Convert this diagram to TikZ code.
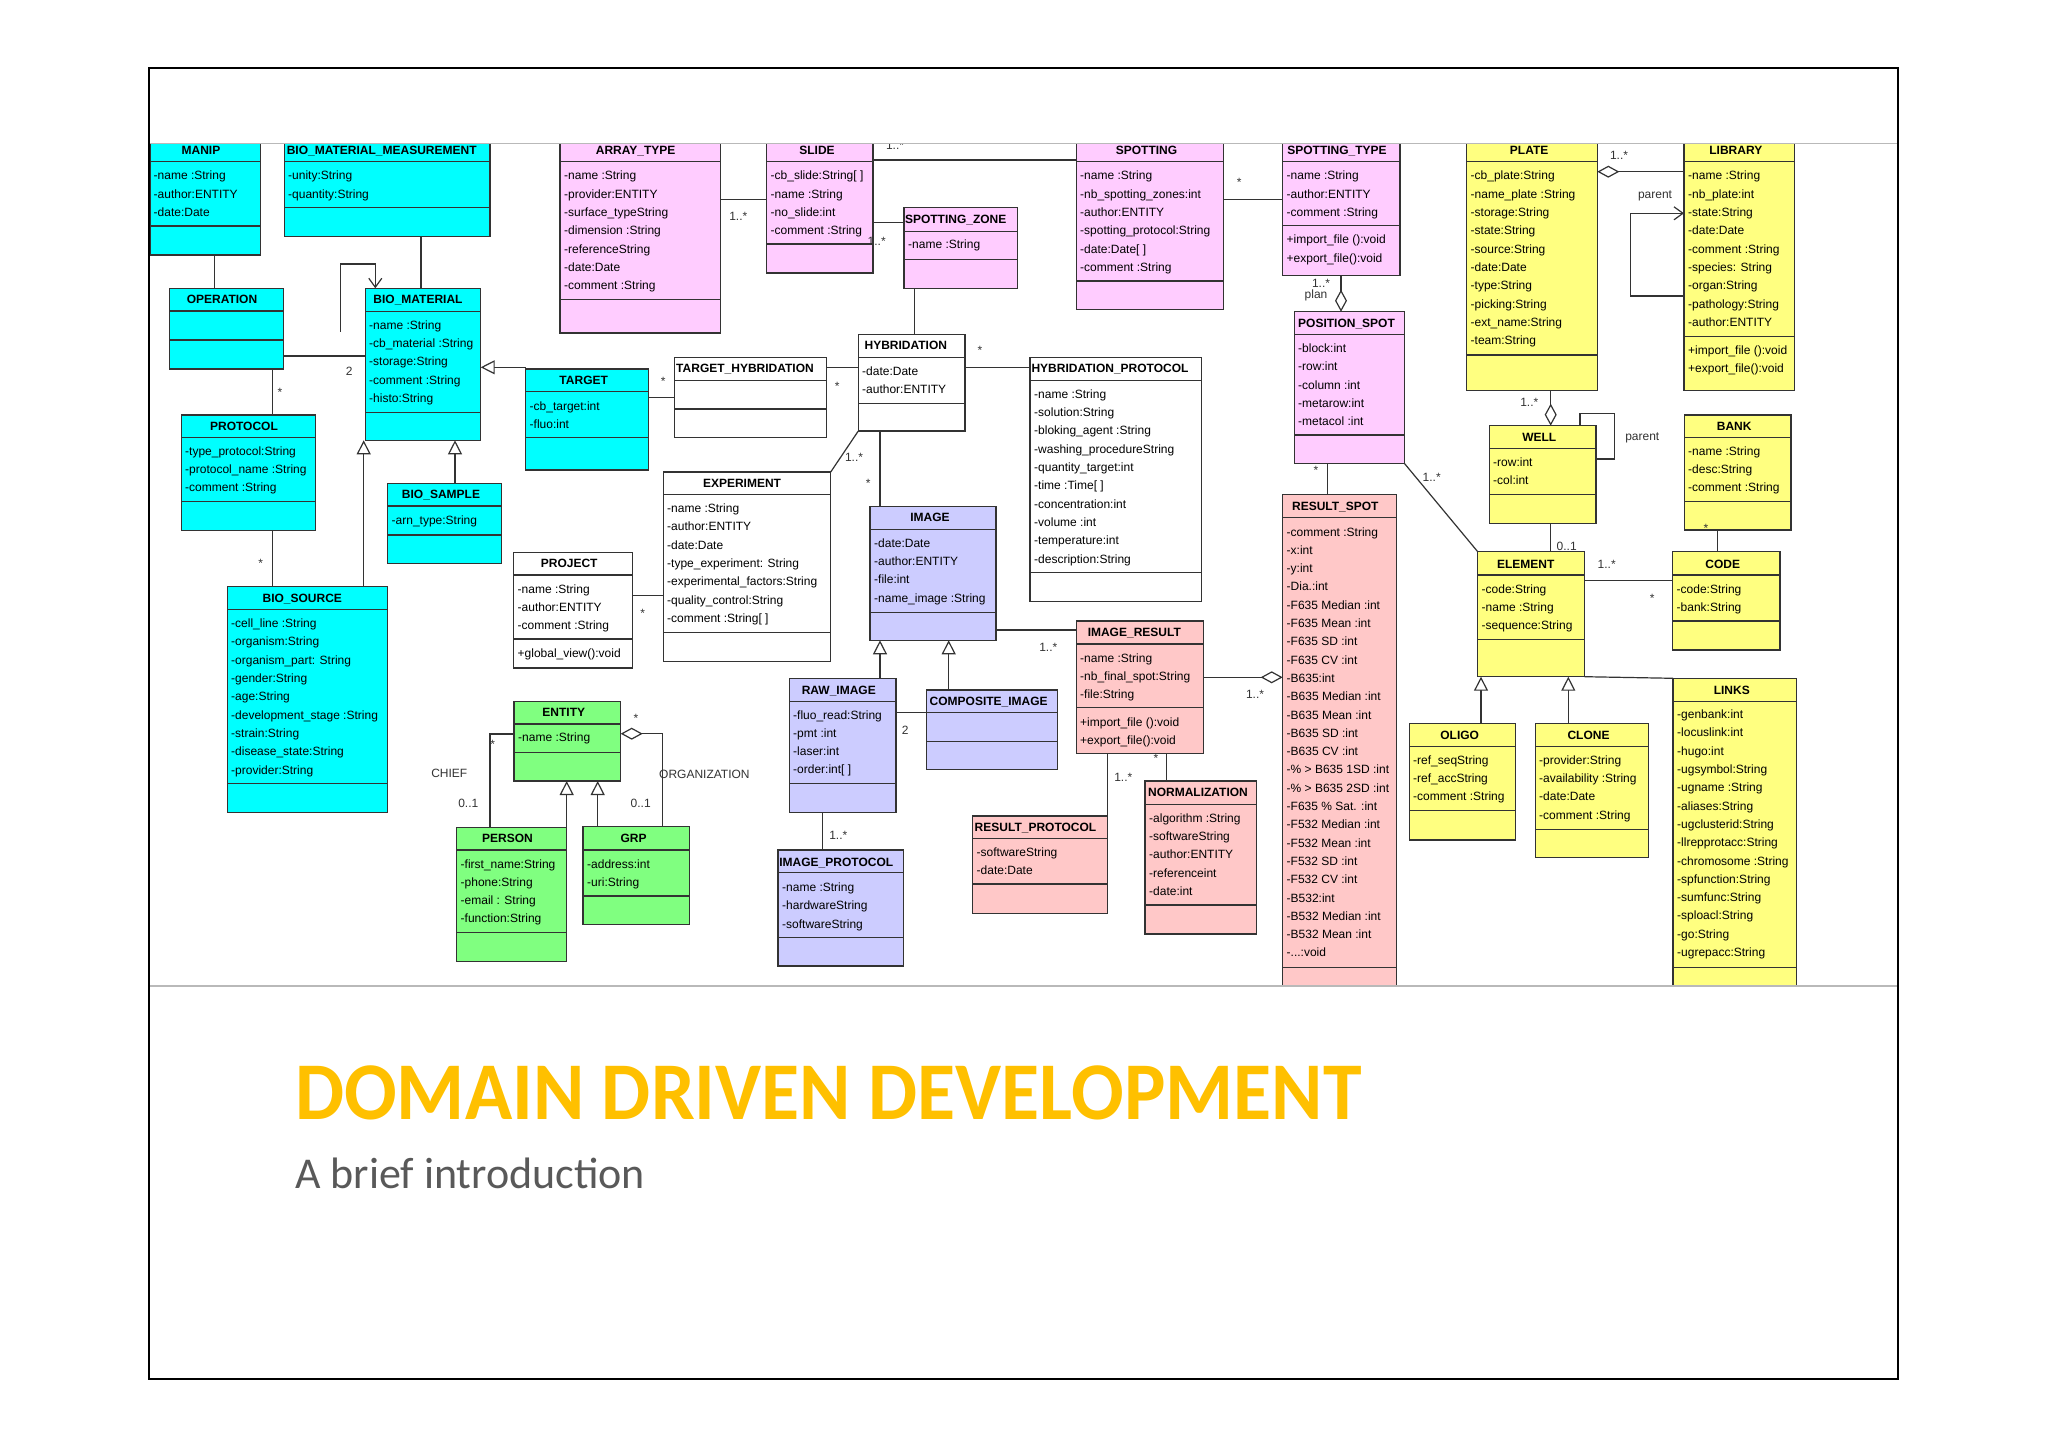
\documentclass[tikz,border=0pt]{standalone}
\usepackage{fontspec}
\usepackage{graphicx}
\setmainfont{Liberation Sans}
\newfontfamily\calib{Carlito}
\usetikzlibrary{arrows.meta}
\definecolor{cy}{HTML}{00FFFF}
\definecolor{pk}{HTML}{FFCCFF}
\definecolor{yl}{HTML}{FFFF80}
\definecolor{lv}{HTML}{CCCCFF}
\definecolor{sm}{HTML}{FFC8C8}
\definecolor{gr}{HTML}{80FF80}
\definecolor{gold}{HTML}{FFC000}
\definecolor{subg}{HTML}{595959}
\definecolor{ln}{HTML}{333333}
\tikzset{
 umlbox/.style={draw=ln, line width=1.2bp, anchor=north west, inner sep=0pt, outer sep=0pt},
 cline/.style={draw=ln, line width=1.2bp},
 conn/.style={draw=ln, line width=1.2bp},
 ttl/.style={font=\bfseries\fontsize{12bp}{14bp}\selectfont, inner sep=0pt, anchor=base},
 attr/.style={font=\fontsize{12bp}{14bp}\selectfont, inner sep=0pt, anchor=base west},
 lbl/.style={font=\fontsize{12bp}{14bp}\selectfont, text=ln, inner sep=0pt, anchor=base},
 gen/.style={conn, -{Triangle[length=14bp, width=14bp, fill=white]}},
 nav/.style={conn, -{Straight Barb[length=9bp, width=13bp]}},
 aggS/.style={conn, {Diamond[length=22bp, width=12bp, fill=white]}-},
 aggE/.style={conn, -{Diamond[length=22bp, width=12bp, fill=white]}},
}
\newcommand\ubox[8]{%
 \node[umlbox, fill=#2, minimum width={#5bp-#3bp}, minimum height={#6bp-#4bp}] (#1) at (#3,#4) {};
 \draw[cline] (#3,#7) -- (#5,#7);
 \draw[cline] (#3,#8) -- (#5,#8);}
\newcommand\utitle[4]{\node[ttl] (#1t) at (#2,#3+4.3) {#4};}
\newcommand\uattrs[4]{\foreach \t [count=\i from 0] in {#4} {\node[attr] (#1\i) at (#2,#3+4.3+\i*18.3) {\t};}}
\newcommand\ulbl[4]{\node[lbl] (#1) at (#2,#3+4.3) {#4};}
\newcommand\ustar[3]{\node[lbl] (#1) at (#2,#3+7) {*};}
\catcode`\_=12
\begin{document}
\begin{tikzpicture}[x=1bp,y=-1bp]
\useasboundingbox (0,0) rectangle (2048,1448);
\fill[white] (0,0) rectangle (2048,1448);
\begin{scope}
\clip (149,144) rectangle (1897,986);
% ---------- boxes ----------
\ubox{manip}{cy}{150}{138}{260.7}{255}{161.7}{226}
\utitle{manip}{201}{150}{MANIP}
\uattrs{manipa}{153.5}{175.7}{-name :String, -author:ENTITY, -date:Date}

\ubox{bmm}{cy}{284.3}{138}{490}{236.3}{161.7}{207.3}
\utitle{bmm}{381.7}{150}{BIO_MATERIAL_MEASUREMENT}
\uattrs{bmma}{288}{175.7}{-unity:String, -quantity:String}

\ubox{oper}{cy}{169.7}{288.3}{283.7}{369}{311}{340}
\utitle{oper}{222}{299.3}{OPERATION}

\ubox{bm}{cy}{365.3}{288.3}{480.7}{440.3}{311.7}{412.3}
\utitle{bm}{418}{299.3}{BIO_MATERIAL}
\uattrs{bma}{369}{325}{-name :String, -cb_material :String, -storage:String, -comment :String, -histo:String}

\ubox{prot}{cy}{181.3}{415}{315.7}{530.3}{437.7}{501.7}
\utitle{prot}{244}{425.7}{PROTOCOL}
\uattrs{prota}{185}{451}{-type_protocol:String, -protocol_name :String, -comment :String}

\ubox{bsample}{cy}{387.7}{483.3}{501.3}{563.5}{506}{535}
\utitle{bsample}{441}{494.3}{BIO_SAMPLE}
\uattrs{bsamplea}{391.5}{520}{-arn_type:String}

\ubox{bsrc}{cy}{227.3}{586.7}{387.7}{812.3}{609.3}{783.3}
\utitle{bsrc}{302.3}{597.7}{BIO_SOURCE}
\uattrs{bsrca}{231}{623.3}{-cell_line :String, -organism:String, -organism_part: String, -gender:String, -age:String, -development_stage :String, -strain:String, -disease_state:String, -provider:String}

\ubox{target}{cy}{525.7}{369}{648.3}{470}{391.7}{437.3}
\utitle{target}{583.7}{380}{TARGET}
\uattrs{targeta}{529.5}{405.7}{-cb_target:int, -fluo:int}

\ubox{tgthyb}{white}{674.7}{357.3}{826.3}{437.3}{380.7}{409}
\utitle{tgthyb}{745}{368.3}{TARGET_HYBRIDATION}

\ubox{arrtype}{pk}{560}{138}{720.7}{333}{161.7}{299.3}
\utitle{arrtype}{635.7}{150}{ARRAY_TYPE}
\uattrs{arrtypea}{564}{175.7}{-name :String, -provider:ENTITY, -surface_typeString, -dimension :String, -referenceString, -date:Date, -comment :String}

\ubox{slide}{pk}{766.7}{138}{873}{273}{161.7}{244}
\utitle{slide}{817}{150}{SLIDE}
\uattrs{slidea}{770.5}{175.7}{{-cb_slide:String[ ]}, -name :String, -no_slide:int, -comment :String}

\ubox{szone}{pk}{904}{207.7}{1017.7}{288.3}{231.7}{259.3}
\utitle{szone}{955.7}{219}{SPOTTING_ZONE}
\uattrs{szonea}{908}{244.3}{-name :String}

\ubox{hyb}{white}{858.3}{334.3}{965}{431}{357.3}{403.3}
\utitle{hyb}{905.8}{345.3}{HYBRIDATION}
\uattrs{hyba}{862}{371}{-date:Date, -author:ENTITY}

\ubox{exp}{white}{663.3}{472}{830.7}{661.3}{494.3}{632.7}
\utitle{exp}{742}{482.7}{EXPERIMENT}
\uattrs{expa}{667}{508.3}{-name :String, -author:ENTITY, -date:Date, -type_experiment: String, -experimental_factors:String, -quality_control:String, {-comment :String[ ]}}

\ubox{proj}{white}{513.7}{552.3}{632.3}{668}{575}{639}
\utitle{proj}{569.2}{563.3}{PROJECT}
\uattrs{proja}{517.5}{588.7}{-name :String, -author:ENTITY, -comment :String}
\uattrs{projo}{517.5}{653.3}{+global_view():void}

\ubox{image}{lv}{870}{506.7}{996}{640.3}{529.3}{612.3}
\utitle{image}{930}{517.3}{IMAGE}
\uattrs{imagea}{874}{543}{-date:Date, -author:ENTITY, -file:int, -name_image :String}

\ubox{rawimg}{lv}{789.3}{678.3}{896}{812.3}{701.7}{783.3}
\utitle{rawimg}{838.8}{689.7}{RAW_IMAGE}
\uattrs{rawimga}{793}{714.7}{-fluo_read:String, -pmt :int, -laser:int, {-order:int[ ]}}

\ubox{compimg}{lv}{926.7}{690}{1057.7}{769.3}{712.7}{741.7}
\utitle{compimg}{988.7}{701}{COMPOSITE_IMAGE}

\ubox{imgprot}{lv}{778}{850}{903.3}{966}{872.7}{937.7}
\utitle{imgprot}{836.3}{861.7}{IMAGE_PROTOCOL}
\uattrs{imgprota}{782}{887.3}{-name :String, -hardwareString, -softwareString}

\ubox{entity}{gr}{514}{701.7}{620.7}{781}{724}{752.7}
\utitle{entity}{563.8}{712.3}{ENTITY}
\uattrs{entitya}{518}{737.3}{-name :String}

\ubox{grp}{gr}{583}{826.7}{689.3}{924.7}{850}{896}
\utitle{grp}{633.5}{838.3}{GRP}
\uattrs{grpa}{587}{863.7}{-address:int, -uri:String}

\ubox{person}{gr}{456.7}{827.7}{566.7}{961.7}{850}{932.7}
\utitle{person}{507.5}{838.3}{PERSON}
\uattrs{persona}{460.5}{863.7}{-first_name:String, -phone:String, -email : String, -function:String}

\ubox{spotting}{pk}{1076.3}{138}{1223.3}{309.7}{161.7}{281}
\utitle{spotting}{1146.5}{150}{SPOTTING}
\uattrs{spottinga}{1080}{175.7}{-name :String, -nb_spotting_zones:int, -author:ENTITY, -spotting_protocol:String, {-date:Date[ ]}, -comment :String}

\ubox{stype}{pk}{1282.7}{138}{1400}{275.7}{161.7}{225.7}
\utitle{stype}{1337}{150}{SPOTTING_TYPE}
\uattrs{stypea}{1286.5}{175.7}{-name :String, -author:ENTITY, -comment :String}
\uattrs{stypeo}{1286.5}{239.7}{+import_file ():void, +export_file():void}

\ubox{pspot}{pk}{1294.3}{311.7}{1404.3}{463.3}{334.3}{435}
\utitle{pspot}{1346.5}{322.7}{POSITION_SPOT}
\uattrs{pspota}{1298}{348.3}{-block:int, -row:int, -column :int, -metarow:int, -metacol :int}

\ubox{rspot}{sm}{1282.7}{494.3}{1396.7}{1000}{517.7}{967.3}
\utitle{rspot}{1335.3}{506}{RESULT_SPOT}
\uattrs{rspota}{1286.5}{531.7}{-comment :String, -x:int, -y:int, -Dia.:int, -F635 Median :int, -F635 Mean :int, -F635 SD :int, -F635 CV :int, -B635:int, -B635 Median :int, -B635 Mean :int, -B635 SD :int, -B635 CV :int, {-\% > B635 1SD :int}, {-\% > B635 2SD :int}, {-F635 \% Sat. :int}, -F532 Median :int, -F532 Mean :int, -F532 SD :int, -F532 CV :int, -B532:int, -B532 Median :int, -B532 Mean :int, {-.{}.{}.:void}}

\ubox{hprot}{white}{1030}{357.7}{1201.3}{601.7}{380.7}{572.7}
\utitle{hprot}{1110}{368.3}{HYBRIDATION_PROTOCOL}
\uattrs{hprota}{1034}{394}{-name :String, -solution:String, -bloking_agent :String, -washing_procedureString, -quantity_target:int, {-time :Time[ ]}, -concentration:int, -volume :int, -temperature:int, -description:String}

\ubox{imgres}{sm}{1076.3}{621}{1203.7}{753.3}{644}{707.3}
\utitle{imgres}{1134.3}{632.3}{IMAGE_RESULT}
\uattrs{imgresa}{1080}{657.7}{-name :String, -nb_final_spot:String, -file:String}
\uattrs{imgreso}{1080}{721.7}{+import_file ():void, +export_file():void}

\ubox{rprot}{sm}{972.7}{816}{1107.3}{913.3}{838.3}{884}
\utitle{rprot}{1035.5}{827}{RESULT_PROTOCOL}
\uattrs{rprota}{976.5}{852.3}{-softwareString, -date:Date}

\ubox{norm}{sm}{1145}{781}{1256.7}{934}{804.3}{905}
\utitle{norm}{1198}{792.3}{NORMALIZATION}
\uattrs{norma}{1149}{818}{-algorithm :String, -softwareString, -author:ENTITY, -referenceint, -date:int}

\ubox{plate}{yl}{1466.7}{138}{1597.3}{390.7}{161.7}{355}
\utitle{plate}{1529.2}{150}{PLATE}
\uattrs{platea}{1470.5}{175.7}{-cb_plate:String, -name_plate :String, -storage:String, -state:String, -source:String, -date:Date, -type:String, -picking:String, -ext_name:String, -team:String}

\ubox{library}{yl}{1684}{138}{1794.7}{390.7}{161.7}{336.7}
\utitle{library}{1735.8}{150}{LIBRARY}
\uattrs{librarya}{1688}{175.7}{-name :String, -nb_plate:int, -state:String, -date:Date, -comment :String, -species: String, -organ:String, -pathology:String, -author:ENTITY}
\uattrs{libraryo}{1688}{350}{+import_file ():void, +export_file():void}

\ubox{well}{yl}{1489.3}{425.7}{1596}{523.3}{448.3}{494.3}
\utitle{well}{1539.3}{437.3}{WELL}
\uattrs{wella}{1493}{462.3}{-row:int, -col:int}

\ubox{bank}{yl}{1684.3}{415}{1791}{530}{437.7}{501.7}
\utitle{bank}{1734.2}{426}{BANK}
\uattrs{banka}{1688}{451}{-name :String, -desc:String, -comment :String}

\ubox{element}{yl}{1477.7}{551.7}{1584.7}{676.7}{575}{639.3}
\utitle{element}{1525.8}{564}{ELEMENT}
\uattrs{elementa}{1481.5}{588.7}{-code:String, -name :String, -sequence:String}

\ubox{code}{yl}{1672.7}{551.7}{1780}{650}{575}{621}
\utitle{code}{1722.8}{564}{CODE}
\uattrs{codea}{1676.5}{588.7}{-code:String, -bank:String}

\ubox{links}{yl}{1673}{678.3}{1796.7}{1000}{701.7}{967.3}
\utitle{links}{1731.8}{689.7}{LINKS}
\uattrs{linksa}{1677}{714.3}{-genbank:int, -locuslink:int, -hugo:int, -ugsymbol:String, -ugname :String, -aliases:String, -ugclusterid:String, -llrepprotacc:String, -chromosome :String, -spfunction:String, -sumfunc:String, -sploacl:String, -go:String, -ugrepacc:String}

\ubox{oligo}{yl}{1409.3}{723.3}{1515.7}{840}{746.7}{810.7}
\utitle{oligo}{1459.7}{735}{OLIGO}
\uattrs{oligoa}{1413}{760}{-ref_seqString, -ref_accString, -comment :String}

\ubox{clone}{yl}{1535.3}{723.3}{1648.7}{857.7}{746.7}{829.3}
\utitle{clone}{1588.5}{735}{CLONE}
\uattrs{clonea}{1539}{760}{-provider:String, -availability :String, -date:Date, -comment :String}

% ---------- connectors ----------
\draw[conn] (manip.south -| 214.3,0) -- (oper.north -| 214.3,0);
\draw[conn] (bmm.south -| 421,0) -- (bm.north -| 421,0);
\coordinate (bmloop) at (340.3,331.7);
\draw[nav] (bmloop) -- (340.3,264) -- (375.3,264) -- (bm.north -| 375.3,0);
\draw[conn] (oper.east |- 0,356) -- (bm.west |- 0,356);
\ulbl{l1}{349.3}{370.7}{2}
\draw[conn] (oper.south -| 272.3,0) -- (prot.north -| 272.3,0);
\ustar{l2}{280}{389}
\draw[conn] (prot.south -| 272.3,0) -- (bsrc.north -| 272.3,0);
\ustar{l3}{260.7}{560}
\draw[gen] (bsrc.north -| 363.7,0) -- (bm.south -| 363.7,0);
\draw[gen] (bsample.north -| 455,0) -- (bm.south -| 455,0);
\draw[gen] (target.west |- 0,367.3) -- (bm.east |- 0,367.3);
\draw[conn] (target.east |- 0,397.7) -- (tgthyb.west |- 0,397.7);
\ustar{l4}{663.3}{378.3}
\draw[conn] (tgthyb.east |- 0,367.3) -- (hyb.west |- 0,367.3);
\ustar{l5}{837.3}{383.3}
\draw[conn] (arrtype.east |- 0,199.3) -- (slide.west |- 0,199.3);
\ulbl{l6}{738.3}{216.7}{1..*}
\draw[conn] (slide.east |- 0,160) -- (spotting.west |- 0,160);
\ulbl{l7}{895}{145}{1..*}
\draw[conn] (slide.east |- 0,222.7) -- (szone.west |- 0,222.7);
\ulbl{l8}{876.7}{241}{1..*}
\draw[conn] (szone.south -| 914.3,0) -- (hyb.north -| 914.3,0);
\draw[conn] (hyb.south west) -- (exp.north east);
\ulbl{l9}{854}{456.7}{1..*}
\draw[conn] (hyb.south -| 880,0) -- (image.north -| 880,0);
\ustar{l10}{868.3}{480}
\draw[conn] (hyb.east |- 0,367.3) -- (hprot.west |- 0,367.3);
\ustar{l11}{980}{347.3}
\draw[conn] (proj.east |- 0,595.3) -- (exp.west |- 0,595.3);
\ustar{l12}{642.7}{610.7}
\draw[conn] (image.east |- 0,630) -- (imgres.west |- 0,630);
\ulbl{l13}{1048.3}{647.3}{1..*}
\draw[gen] (rawimg.north -| 880,0) -- (image.south -| 880,0);
\draw[gen] (compimg.north -| 948.7,0) -- (image.south -| 948.7,0);
\draw[conn] (rawimg.east |- 0,712.3) -- (compimg.west |- 0,712.3);
\ulbl{l14}{905.3}{730}{2}
\draw[conn] (rawimg.south -| 822.7,0) -- (imgprot.north -| 822.7,0);
\ulbl{l15}{838.3}{835.3}{1..*}
\draw[gen] (grp.north -| 597.7,0) -- (entity.south -| 597.7,0);
\draw[gen] (person.north -| 566.7,0) -- (entity.south -| 566.7,0);
\draw[aggS] (entity.east |- 0,733.7) -| (grp.north -| 662.3,0);
\ustar{l16}{636}{715}
\node[lbl, anchor=base west] (l17) at (659,778.3) {ORGANIZATION};
\ulbl{l18}{640.7}{803.3}{0..1}
\draw[conn] (person.north -| 490,0) |- (entity.west |- 0,734);
\ustar{l19}{492.7}{741}
\ulbl{l20}{449.3}{772.7}{CHIEF}
\ulbl{l21}{468.3}{803.3}{0..1}
\draw[conn] (spotting.east |- 0,199.3) -- (stype.west |- 0,199.3);
\ustar{l22}{1239.3}{179.3}
\draw[aggE] (stype.south -| 1341,0) -- (pspot.north -| 1341,0);
\ulbl{l23}{1321}{283}{1..*}
\ulbl{l24}{1316}{294}{plan}
\draw[conn] (pspot.south -| 1327.7,0) -- (rspot.north -| 1327.7,0);
\ustar{l25}{1316}{467.7}
\draw[aggE] (imgres.east |- 0,677.3) -- (rspot.west |- 0,677.3);
\ulbl{l26}{1255}{694.3}{1..*}
\draw[conn] (imgres.south -| 1107.3,0) -- (rprot.north -| 1107.3,0);
\ulbl{l27}{1123.3}{776.7}{1..*}
\draw[conn] (imgres.south -| 1166.7,0) -- (norm.north -| 1166.7,0);
\ustar{l28}{1156}{755}
\draw[aggS] (plate.east |- 0,171.7) -- (library.west |- 0,171.7);
\ulbl{l29}{1619}{155}{1..*}
\draw[nav] (library.west |- 0,296) -- (1630.7,296) -- (1630.7,213.3) -- (library.west |- 0,213.3);
\ulbl{l30}{1655}{194}{parent}
\draw[aggE] (plate.south -| 1550.7,0) -- (well.north -| 1550.7,0);
\ulbl{l31}{1529.3}{401.7}{1..*}
\draw[conn] (well.north -| 1580,0) |- (1614.3,413.3) |- (well.east |- 0,459);
\ulbl{l32}{1642.3}{436}{parent}
\draw[conn] (well.south -| 1550.7,0) -- (element.north -| 1550.7,0);
\ulbl{l33}{1566.7}{546}{0..1}
\draw[conn] (bank.south -| 1717.7,0) -- (code.north -| 1717.7,0);
\ustar{l34}{1706}{525}
\draw[conn] (pspot.south east) -- (element.north west);
\ulbl{l35}{1431.7}{476.7}{1..*}
\draw[conn] (element.east |- 0,580.7) -- (code.west |- 0,580.7);
\ulbl{l36}{1606.7}{564}{1..*}
\ustar{l37}{1652.3}{595.7}
\draw[conn] (element.south east) -- (links.north west);
\draw[gen] (oligo.north -| 1481,0) -- (element.south -| 1481,0);
\draw[gen] (clone.north -| 1568.3,0) -- (element.south -| 1568.3,0);
\end{scope}
% screenshot edges
\draw[gray!55, line width=1.5bp] (149,143.7) -- (1897,143.7);
\draw[gray!55, line width=1.5bp] (149,986) -- (1897,986);
% slide frame
\node[draw=black, line width=2.5bp, minimum width=1749bp, minimum height=1311bp, anchor=north west, inner sep=0pt, outer sep=0pt] (frame) at (149,68) {};
% titles
\node[anchor=base west, inner sep=0pt, text=gold, font=\calib\bfseries\fontsize{82bp}{90bp}\selectfont] (title) at (295,1119) {\scalebox{0.95}[1]{DOMAIN DRIVEN DEVELOPMENT}};
\node[anchor=base west, inner sep=0pt, text=subg, font=\calib\fontsize{44bp}{50bp}\selectfont] (subtitle) at (295,1188) {A brief introduction};
\end{tikzpicture}
\end{document}
